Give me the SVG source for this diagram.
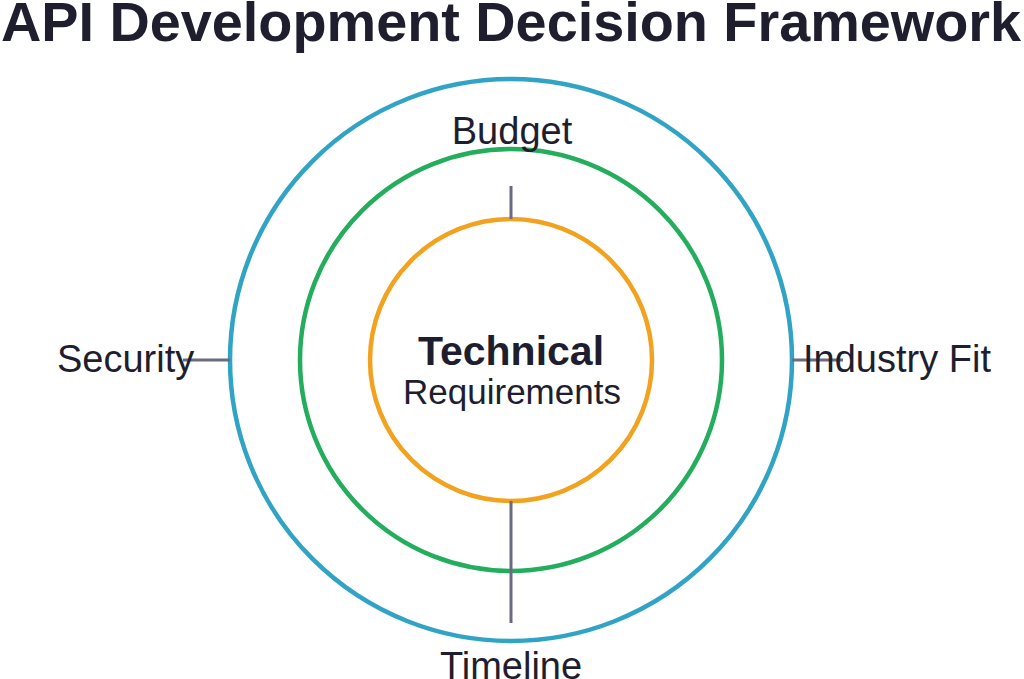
<svg xmlns="http://www.w3.org/2000/svg" width="1024" height="679" viewBox="0 0 1024 679">
<style>
text{font-family:"Liberation Sans",Arial,sans-serif;fill:#1e1e2e}
.ring{fill:none;stroke-width:4.5}
.lbl{font-size:38px}
.conn{stroke:#6b6b80;stroke-width:3;fill:none}
</style>
<rect width="1024" height="679" fill="#ffffff"/>
<text x="511" y="41" text-anchor="middle" font-size="55" font-weight="bold" textLength="1020" lengthAdjust="spacingAndGlyphs">API Development Decision Framework</text>
<g id="outer-ring"><circle class="ring" cx="511" cy="360" r="281" stroke="#31a3c5"/></g>
<g id="middle-ring"><circle class="ring" cx="511" cy="360" r="211" stroke="#23ad5c"/></g>
<g id="inner-ring"><circle class="ring" cx="511" cy="360" r="141" fill="#ffffff" stroke="#f2a21e"/></g>
<g id="connectors">
<line class="conn" x1="511" y1="186" x2="511" y2="219"/>
<line class="conn" x1="511" y1="501" x2="511" y2="623"/>
<line class="conn" x1="183" y1="360" x2="230" y2="360"/>
<line class="conn" x1="792" y1="360" x2="843" y2="360"/>
</g>
<g id="center">
<text x="511" y="365" text-anchor="middle" font-size="41" font-weight="bold">Technical</text>
<text x="512" y="404" text-anchor="middle" font-size="35">Requirements</text>
</g>
<g id="budget"><text class="lbl" x="512" y="144" text-anchor="middle">Budget</text></g>
<g id="security"><text class="lbl" x="57" y="372">Security</text></g>
<g id="industry-fit"><text class="lbl" x="803" y="372">Industry Fit</text></g>
<g id="timeline"><text class="lbl" x="511" y="679" text-anchor="middle">Timeline</text></g>
</svg>
